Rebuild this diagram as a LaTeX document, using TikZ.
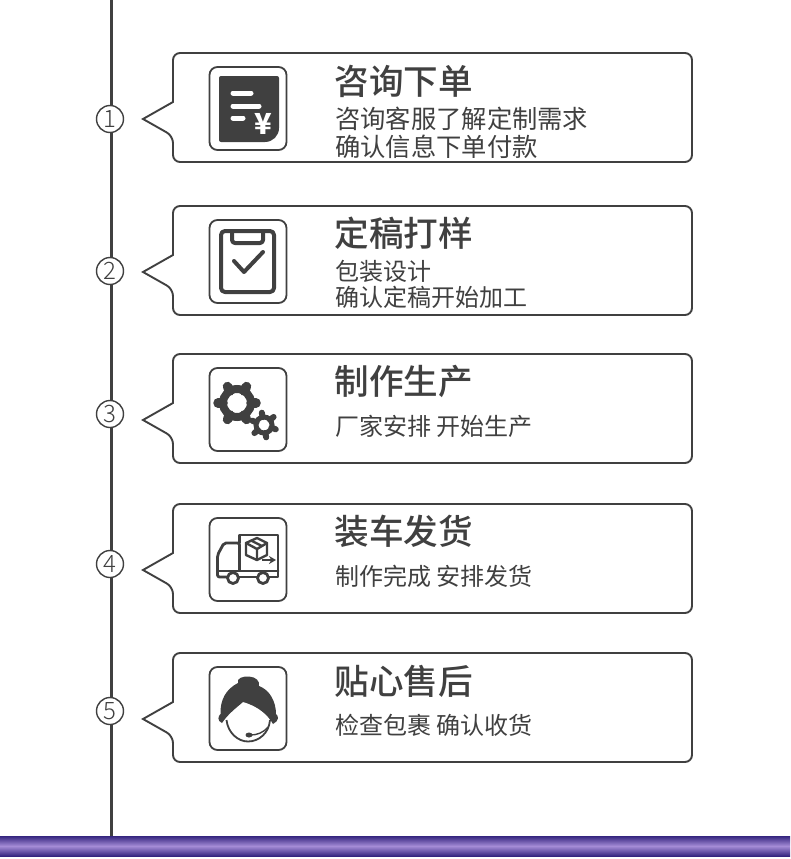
\documentclass[tikz,border=0pt]{standalone}
\usepackage{fontspec}
\usetikzlibrary{arrows.meta,positioning}
\newfontfamily\cjk{Noto Sans CJK SC}
\newfontfamily\cjkmid{Noto Sans CJK SC Medium}
\newfontfamily\cjklight{Noto Sans CJK SC Light}
\definecolor{ink}{HTML}{404040}
\definecolor{bandedge}{HTML}{35257F}
\definecolor{bandmid}{HTML}{A58CD6}

\begin{document}
\begin{tikzpicture}[
      x=1pt, y=-1pt, % 坐标单位与原图像素一致
      every node/.style={inner sep=0pt, text=ink},
      titletext/.style={anchor=west, font=\cjkmid\fontsize{34.6}{34}\selectfont},
      subtext/.style={anchor=west, align=left, font=\cjk\fontsize{24}{28}\selectfont},
      stepnum/.style={circle, draw=ink, line width=1.4pt, fill=white, minimum size=27pt, font=\cjklight\fontsize{24}{24}\selectfont},
      iconbox/.style={draw=ink, line width=1.8pt, rounded corners=8pt, minimum width=77pt, minimum height=83pt},
      iconline/.style={draw=ink, line width=2.8pt, line cap=round, line join=round},
      card/.pic={
        \draw[ink, line width=1.9pt, fill=white, rounded corners=7pt]
          (0,49) -- (0,0) -- (519,0) -- (519,109) -- (0,109) -- (0,83) [sharp corners] -- (-30,66) -- cycle;
      }
    ]
\useasboundingbox (0,0) rectangle (790,859);

% 底部色带与时间线
\shade[top color=bandedge, bottom color=bandedge, middle color=bandmid] (0,836) rectangle (790,856);
\coordinate (linetop) at (111.5,0);
\coordinate (lineend) at (111.5,836);
\draw[ink, line width=3pt] (linetop) -- (lineend);

% 五张卡片
\pic at (173,53) {card};
\pic at (173,206) {card};
\pic at (173,354) {card};
\pic at (173,504) {card};
\pic at (173,653) {card};

% 序号
\node[stepnum] (num1) at (110,119) {1};
\node[stepnum] (num2) at (110,271) {2};
\node[stepnum] (num3) at (110,414) {3};
\node[stepnum] (num4) at (110,564) {4};
\node[stepnum] (num5) at (110,711) {5};

% 图标外框
\node[iconbox] (icon1) at (248,108.5) {};
\node[iconbox] (icon2) at (248,261.5) {};
\node[iconbox] (icon3) at (248,409.5) {};
\node[iconbox] (icon4) at (248,559.5) {};
\node[iconbox] (icon5) at (248,708.5) {};

% 文字
\node[titletext] (title1) at (334.5,81) {咨询下单};
\node[subtext, font=\cjk\fontsize{25.3}{28}\selectfont] (sub1) at (335,133) {咨询客服了解定制需求\\确认信息下单付款};
\node[titletext] (title2) at (334.5,233.5) {定稿打样};
\node[subtext, font=\cjk\fontsize{24}{26}\selectfont] (sub2) at (335,284) {包装设计\\确认定稿开始加工};
\node[titletext] (title3) at (334.5,381.5) {制作生产};
\node[subtext] (sub3) at (335,426.5) {厂家安排 开始生产};
\node[titletext] (title4) at (334.5,531.5) {装车发货};
\node[subtext] (sub4) at (335,576.5) {制作完成 安排发货};
\node[titletext] (title5) at (334.5,681.5) {贴心售后};
\node[subtext] (sub5) at (335,725.5) {检查包裹 确认收货};

% 图标1：账单
\fill[ink, rounded corners=2pt] (219,76) -- (279,76) -- (279,125) [rounded corners=14pt] -- (279,142) -- (250,142) [rounded corners=2pt] -- (219,142) -- cycle;
\draw[white, line width=5pt, line cap=round] (233,93) -- (251,93);
\draw[white, line width=5pt, line cap=round] (233,106) -- (259,106);
\draw[white, line width=5pt, line cap=round] (233,118) -- (243,118);
\node[text=white, font=\cjk\bfseries\fontsize{29}{29}\selectfont] (yen) at (263,124) {¥};

% 图标2：清单
\draw[iconline, line width=4pt, rounded corners=4pt] (221,231) rectangle (274,292);
\draw[iconline, line width=4pt, rounded corners=3pt] (232,232) -- (232,243) -- (263,243) -- (263,232);
\draw[iconline, line width=4pt] (234,261) -- (244,272) -- (263,252);

% 图标3：齿轮
\foreach \ang in {0,60,...,300}
  \draw[ink, line width=9.5pt, line cap=round] (237,403) ++(\ang:14) -- ++(\ang:5);
\draw[ink, line width=8pt] (237,403) circle (14);
\fill[white] (264,425) circle (14);
\foreach \ang in {20,80,...,320}
  \draw[ink, line width=6pt, line cap=round] (264,425) ++(\ang:8) -- ++(\ang:4.5);
\draw[ink, line width=5pt] (264,425) circle (8);

% 图标4：货车
\draw[iconline] (239.5,543) -- (239.5,535) -- (278,535) -- (278,571);
\draw[iconline, rounded corners=2pt] (227,577) -- (217.5,577) -- (217.5,555) -- (224,543) -- (239.5,543) -- (239.5,570);
\draw[iconline] (217.5,571) -- (278,571);
\draw[iconline] (239,577) -- (257,577);
\draw[iconline] (269,577) -- (278,577) -- (278,571);
\draw[iconline, fill=white] (233,578) circle (5.5);
\draw[iconline, fill=white] (263,578) circle (5.5);
\draw[iconline, line width=2.4pt] (257,538) -- (267,543) -- (267,555) -- (257,560) -- (246,555) -- (246,543) -- cycle;
\draw[iconline, line width=2.4pt] (246,543) -- (257,549) -- (267,543) (257,549) -- (257,560) (251,540.5) -- (262,546);
\draw[ink, line width=2.6pt, -{Stealth[length=7pt,width=8pt]}] (262,560) -- (276,560);

% 图标5：客服
\fill[ink] (222,723) .. controls (217,721) and (218,716) .. (220.5,714)
  .. controls (220,700) and (226,689) .. (238,683)
  .. controls (236,678) and (244,676) .. (249,676.5)
  .. controls (256,677) and (260,681) .. (259,686)
  .. controls (270,690) and (276,702) .. (276,714)
  .. controls (279,716) and (279,721) .. (273,724)
  .. controls (268,715) and (258,706) .. (243,702)
  .. controls (236,708) and (228,714) .. (222,723) -- cycle;
\draw[ink, line width=1.8pt] (226.5,720) .. controls (228,733) and (238,741.5) .. (248,741.5)
  .. controls (259,741.5) and (269,733) .. (270,720);
\draw[ink, line width=1.4pt] (268,727) .. controls (263,733) and (257,735) .. (250,735);
\fill[ink] (249,735) ellipse (3.5 and 2.5);
\end{tikzpicture}
\end{document}
